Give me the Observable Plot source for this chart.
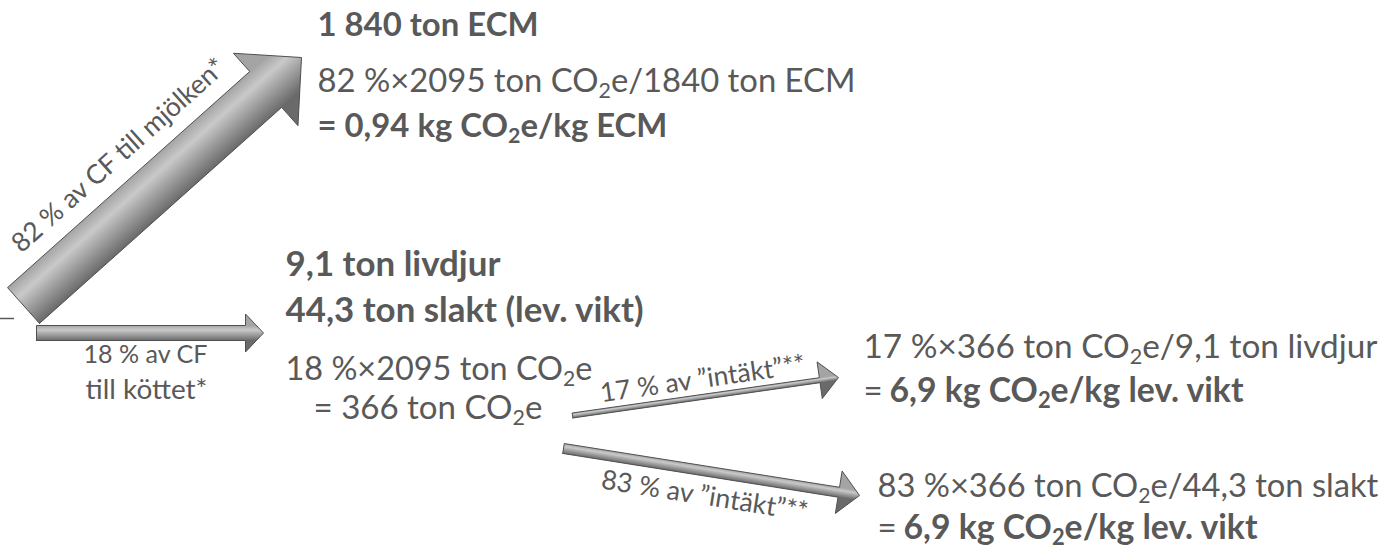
<!DOCTYPE html>
<html>
<head>
<meta charset="utf-8">
<script src="https://cdn.jsdelivr.net/npm/d3@7"></script>
<script src="https://cdn.jsdelivr.net/npm/@observablehq/plot@0.6"></script>
<style>
  html, body { margin: 0; padding: 0; background: #fff; }
  #chart svg { display: block; }
</style>
</head>
<body>
<div id="chart"></div>
<script>
// ---------------- data ----------------
const totalCF = 2095;                 // ton CO2e, whole farm
const milkShare = 82;                 // % of CF to milk
const meatShare = 18;                 // % of CF to meat
const milkECM = 1840;                 // ton ECM
const milkFactor = "0,94";            // kg CO2e / kg ECM
const breedingStock = "9,1";          // ton livdjur
const slaughterWeight = "44,3";       // ton slakt (lev. vikt)
const meatCF = 366;                   // ton CO2e to meat
const incomeShares = [17, 83];        // % av "intäkt"
const meatFactors = ["6,9", "6,9"];   // kg CO2e / kg lev. vikt
const incomeProducts = [`${breedingStock} ton livdjur`, `${slaughterWeight} ton slakt`];

// ---------------- texts built from the data ----------------
const txt = {
  milkAmount: `1 840 ton ECM`,
  milkCalc: `${milkShare} %×${totalCF} ton CO₂e/${milkECM} ton ECM`,
  milkResult: `= ${milkFactor} kg CO₂e/kg ECM`,
  stock: `${breedingStock} ton livdjur`,
  slaughter: `${slaughterWeight} ton slakt (lev. vikt)`,
  meatCalc: `${meatShare} %×${totalCF} ton CO₂e`,
  meatResult: `= ${meatCF} ton CO₂e`,
  calc17: `${incomeShares[0]} %×${meatCF} ton CO₂e/${incomeProducts[0]}`,
  res17: `${meatFactors[0]} kg CO₂e/kg lev. vikt`,
  calc83: `${incomeShares[1]} %×${meatCF} ton CO₂e/${incomeProducts[1]}`,
  res83: `${meatFactors[1]} kg CO₂e/kg lev. vikt`,
  lblMilk: `${milkShare} % av CF till mjölken*`,
  lblMeat1: `${meatShare} % av CF`,
  lblMeat2: `till köttet*`,
  lbl17: `${incomeShares[0]} % av ”intäkt”**`,
  lbl83: `${incomeShares[1]} % av ”intäkt”**`
};

// ---------------- layout ----------------
const W = 1393, H = 549;
const ink = "#595959";
const FONT = "Lato, 'Open Sans', sans-serif";
const MAIN = 33, SMALL = 26;

const arrows = [
  {id: "milk", x1: 23,  y1: 305,   x2: 301, y2: 57,    shaft: 48, head: 97, headLen: 48},
  {id: "meat", x1: 36,  y1: 332.5, x2: 263, y2: 332.5, shaft: 15, head: 38, headLen: 18},
  {id: "i17",  x1: 572, y1: 415,   x2: 838, y2: 377,   shaft: 5,  head: 37, headLen: 19},
  {id: "i83",  x1: 563, y1: 448,   x2: 859, y2: 495,   shaft: 10, head: 43, headLen: 21}
];

function geom(a) {
  const dx = a.x2 - a.x1, dy = a.y2 - a.y1, L = Math.hypot(dx, dy);
  const ux = dx / L, uy = dy / L, nx = -uy, ny = ux;
  return {L, ux, uy, nx, ny, angle: Math.atan2(dy, dx) * 180 / Math.PI};
}
function arrowPolygon(a) {
  const {ux, uy, nx, ny} = geom(a);
  const bx = a.x2 - ux * a.headLen, by = a.y2 - uy * a.headLen;
  const s = a.shaft / 2, h = a.head / 2;
  const pts = [
    [a.x1 + nx * s, a.y1 + ny * s], [bx + nx * s, by + ny * s], [bx + nx * h, by + ny * h],
    [a.x2, a.y2],
    [bx - nx * h, by - ny * h], [bx - nx * s, by - ny * s], [a.x1 - nx * s, a.y1 - ny * s],
    [a.x1 + nx * s, a.y1 + ny * s]
  ];
  return pts.map(([x, y]) => ({id: a.id, x, y}));
}
// point along an arrow (distance d from tail) offset by o along its normal
function along(a, d, o) {
  const {ux, uy, nx, ny, angle} = geom(a);
  return {x: a.x1 + ux * d + nx * o, y: a.y1 + uy * d + ny * o, rotate: angle};
}

const A = Object.fromEntries(arrows.map(a => [a.id, a]));
const pMilk = along(A.milk, 171, -40);
const p17 = along(A.i17, 134, -9);
const p83 = along(A.i83, 147, 33.5);

// text items: text, baseline position, style, target width (px) as in the reference
const items = [
  {text: txt.milkAmount, x: 317, y: 35,  size: MAIN, weight: "bold",   w: 221},
  {text: txt.milkCalc,   x: 317, y: 91,  size: MAIN, weight: "normal", w: 538},
  {text: txt.milkResult, x: 317, y: 136, size: MAIN, weight: "bold",   w: 350},
  {text: txt.stock,      x: 285, y: 275, size: MAIN, weight: "bold",   w: 215},
  {text: txt.slaughter,  x: 285, y: 321, size: MAIN, weight: "bold",   w: 358},
  {text: txt.meatCalc,   x: 285, y: 379, size: MAIN, weight: "normal", w: 307},
  {text: txt.meatResult, x: 313, y: 418, size: MAIN, weight: "normal", w: 229},
  {text: txt.calc17,     x: 863, y: 357, size: MAIN, weight: "normal", w: 514},
  {text: "=",            x: 863, y: 401, size: MAIN, weight: "normal"},
  {text: txt.res17,      x: 889, y: 401, size: MAIN, weight: "bold",   w: 354},
  {text: txt.calc83,     x: 877, y: 496, size: MAIN, weight: "normal", w: 501},
  {text: "=",            x: 877, y: 538, size: MAIN, weight: "normal"},
  {text: txt.res83,      x: 903, y: 538, size: MAIN, weight: "bold",   w: 354},
  {text: txt.lblMeat1,   x: 145, y: 362, size: SMALL, weight: "normal", anchor: "middle", w: 124},
  {text: txt.lblMeat2,   x: 146, y: 398, size: SMALL, weight: "normal", anchor: "middle", w: 122},
  {text: txt.lblMilk, x: pMilk.x, y: pMilk.y, rotate: pMilk.rotate, size: SMALL, weight: "normal", anchor: "middle", w: 276},
  {text: txt.lbl17,   x: p17.x,   y: p17.y,   rotate: p17.rotate,   size: SMALL, weight: "normal", anchor: "middle", w: 207},
  {text: txt.lbl83,   x: p83.x,   y: p83.y,   rotate: p83.rotate,   size: SMALL, weight: "normal", anchor: "middle", w: 209}
];

const marks = [];
for (const a of arrows) {
  marks.push(Plot.line(arrowPolygon(a), {
    x: "x", y: "y", fill: `url(#grad-${a.id})`, stroke: "#505050",
    strokeWidth: 1, strokeLinejoin: "miter", curve: "linear"
  }));
}
// small cut-off stroke at the far left edge
marks.push(Plot.ruleY([318], {x1: 0, x2: 14, stroke: ink, strokeWidth: 1.5}));
items.forEach((it, i) => {
  marks.push(Plot.text([it], {
    x: "x", y: "y", text: "text",
    fontSize: it.size, fontWeight: it.weight,
    textAnchor: it.anchor || "start", lineAnchor: "bottom",
    rotate: it.rotate || 0, fill: ink, className: `ti-${i}`
  }));
});

const svg = Plot.plot({
  width: W, height: H, margin: 0,
  x: {domain: [0, W], range: [0, W], axis: null},
  y: {domain: [0, H], range: [0, H], axis: null},
  style: {fontFamily: FONT, background: "#fff", overflow: "visible"},
  marks
});

// gradients for the block arrows (across the shaft: light upper side, dark lower side)
const ns = "http://www.w3.org/2000/svg";
const defs = document.createElementNS(ns, "defs");
for (const a of arrows) {
  const {nx, ny} = geom(a);
  const mx = (a.x1 + a.x2) / 2, my = (a.y1 + a.y2) / 2, s = a.shaft / 2;
  const g = document.createElementNS(ns, "linearGradient");
  g.setAttribute("id", `grad-${a.id}`);
  g.setAttribute("gradientUnits", "userSpaceOnUse");
  g.setAttribute("x1", mx - nx * s); g.setAttribute("y1", my - ny * s);
  g.setAttribute("x2", mx + nx * s); g.setAttribute("y2", my + ny * s);
  [[0, "#a4a4a4"], [0.3, "#c9c9c9"], [0.65, "#999999"], [1, "#6a6a6a"]].forEach(([o, c]) => {
    const st = document.createElementNS(ns, "stop");
    st.setAttribute("offset", o); st.setAttribute("stop-color", c);
    g.appendChild(st);
  });
  defs.appendChild(g);
}
svg.insertBefore(defs, svg.firstChild);

document.getElementById("chart").appendChild(svg);

// render "₂" as a real lowered subscript (em-based so it scales with the text)
svg.querySelectorAll("text").forEach(t => {
  const s = t.textContent;
  if (!s.includes("₂")) return;
  const parts = s.split("₂");
  t.textContent = "";
  parts.forEach((p, i) => {
    if (i > 0) {
      const sub = document.createElementNS(ns, "tspan");
      sub.setAttribute("font-size", "65%");
      sub.setAttribute("dy", "0.3em");
      sub.textContent = "2";
      t.appendChild(sub);
      const rest = document.createElementNS(ns, "tspan");
      rest.setAttribute("dy", "-0.195em");
      rest.textContent = p;
      t.appendChild(rest);
    } else {
      t.appendChild(document.createTextNode(p));
    }
  });
});

// fit each text to the width it has in the reference (font metrics differ from the original)
items.forEach((it, i) => {
  if (!it.w) return;
  svg.querySelectorAll(`.ti-${i} text`).forEach(t => {
    const len = t.getComputedTextLength();
    if (len > 0) t.setAttribute("font-size", (it.size * it.w / len).toFixed(2));
  });
});
</script>
</body>
</html>
